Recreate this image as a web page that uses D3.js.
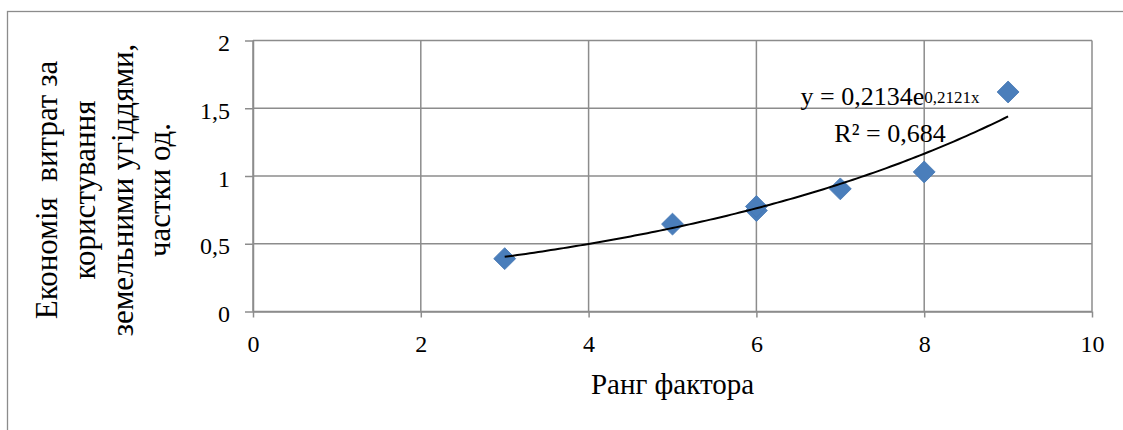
<!DOCTYPE html>
<html>
<head>
<meta charset="utf-8">
<script src="https://cdn.jsdelivr.net/npm/d3@7"></script>
<style>
  html, body { margin: 0; padding: 0; background: #fff; }
  svg { display: block; }
</style>
</head>
<body>
<svg id="chart" width="1123" height="430"></svg>
<script>
// ---- data ----
const rankValues = [3, 5, 6, 6, 7, 8, 9];
const savingValues = [0.39, 0.645, 0.745, 0.775, 0.905, 1.03, 1.62];
const xTickValues = [0, 2, 4, 6, 8, 10];
const yTickValues = [0, 0.5, 1, 1.5, 2];
const trendA = 0.2134;
const trendB = 0.2121;
const trendRange = [3, 9];
const equationMain = "y = 0,2134e";
const equationExp = "0,2121x";
const rSquaredText = "R² = 0,684";
const xTitle = "Ранг фактора";
const yTitleLines = ["Економія  витрат за", "користування", "земельними угіддями,", "частки од."];

// ---- layout ----
const plot = { left: 253, right: 1092, top: 40.5, bottom: 311.5 };
const gridColor = "#8c8c8c";
const FONT = "Liberation Serif";
const fmt = d => String(d).replace(".", ",");

const svg = d3.select("#chart");

// outer chart frame (cut off at right and bottom)
svg.append("rect")
  .attr("x", 7.5).attr("y", 11.5)
  .attr("width", 1300).attr("height", 600)
  .attr("fill", "#fff")
  .attr("stroke", gridColor).attr("stroke-width", 1.3);

const x = d3.scaleLinear().domain([0, 10]).range([plot.left, plot.right]);
const y = d3.scaleLinear().domain([0, 2]).range([plot.bottom, plot.top]);

// gridlines
const grid = svg.append("g").attr("stroke", gridColor).attr("stroke-width", 1.5);
grid.selectAll("line.h").data(yTickValues).join("line")
  .attr("class", "h")
  .attr("x1", plot.left).attr("x2", plot.right)
  .attr("y1", d => y(d)).attr("y2", d => y(d));
grid.selectAll("line.v").data(xTickValues).join("line")
  .attr("class", "v")
  .attr("y1", plot.top).attr("y2", plot.bottom)
  .attr("x1", d => x(d)).attr("x2", d => x(d));

// axes
const yAxis = svg.append("g")
  .attr("transform", `translate(${plot.left},0)`)
  .call(d3.axisLeft(y).tickValues(yTickValues).tickFormat(fmt)
    .tickSize(8).tickSizeOuter(0).tickPadding(15));
const xAxis = svg.append("g")
  .attr("transform", `translate(0,${plot.bottom})`)
  .call(d3.axisBottom(x).tickValues(xTickValues).tickFormat(fmt)
    .tickSize(6).tickSizeOuter(0).tickPadding(17));
[xAxis, yAxis].forEach(g => {
  g.attr("font-family", FONT).attr("font-size", 24);
  g.select(".domain").attr("stroke", gridColor).attr("stroke-width", 1.5);
  g.selectAll(".tick line").attr("stroke", gridColor).attr("stroke-width", 1.5);
  g.selectAll(".tick text").attr("fill", "#000")
    .attr("font-family", FONT).attr("font-size", 24);
});
yAxis.selectAll(".tick text").attr("dy", "0.42em");

// trendline
const trendXs = d3.range(trendRange[0], trendRange[1] + 0.0001, 0.05);
const line = d3.line()
  .x(d => x(d))
  .y(d => y(trendA * Math.exp(trendB * d)));

// markers
const marker = d3.symbol().type(d3.symbolSquare).size(240);
svg.append("g").selectAll("path").data(rankValues).join("path")
  .attr("d", marker)
  .attr("transform", (d, i) => `translate(${x(d)},${y(savingValues[i])}) rotate(45)`)
  .attr("fill", "#4a7ebb")
  .attr("stroke", "#4677b3").attr("stroke-width", 0.8);

svg.append("path")
  .datum(trendXs)
  .attr("d", line)
  .attr("fill", "none")
  .attr("stroke", "#000")
  .attr("stroke-width", 2);

// equation label
const eq = svg.append("text")
  .attr("x", 890).attr("y", 105)
  .attr("text-anchor", "middle")
  .attr("font-family", FONT)
  .attr("font-size", 26)
  .attr("fill", "#000");
eq.append("tspan").text(equationMain);
eq.append("tspan").attr("dy", -2).attr("font-size", 17).text(equationExp);

svg.append("text")
  .attr("x", 890).attr("y", 142)
  .attr("text-anchor", "middle")
  .attr("font-family", FONT)
  .attr("font-size", 26)
  .attr("fill", "#000")
  .text(rSquaredText);

// x axis title
svg.append("text")
  .attr("x", (plot.left + plot.right) / 2).attr("y", 394)
  .attr("text-anchor", "middle")
  .attr("font-family", FONT)
  .attr("font-size", 29)
  .attr("fill", "#000")
  .text(xTitle);

// y axis title (rotated, multi-line)
const yT = svg.append("g");
yTitleLines.forEach((t, i) => {
  yT.append("text")
    .attr("transform", `translate(${57 + i * 37.8},190) rotate(-90)`)
    .attr("text-anchor", "middle")
    .attr("font-family", FONT)
    .attr("font-size", 31)
    .attr("xml:space", "preserve")
    .style("white-space", "pre")
    .attr("fill", "#000")
    .text(t);
});
</script>
</body>
</html>
